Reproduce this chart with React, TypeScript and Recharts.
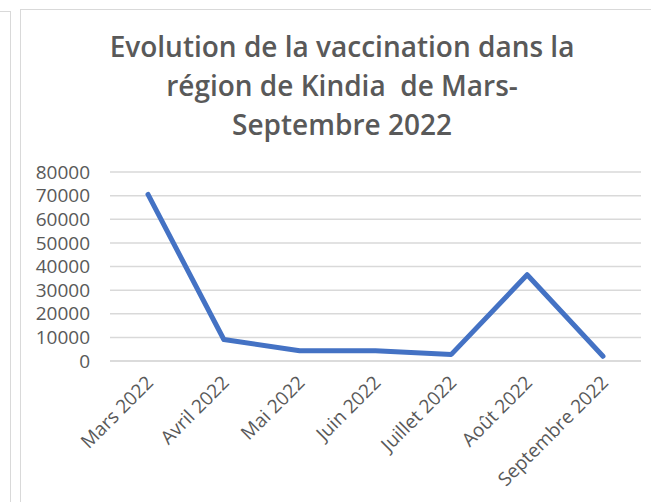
import React from "react";
import { LineChart, Line, XAxis, YAxis, CartesianGrid } from "recharts";

const months = ["Mars 2022", "Avril 2022", "Mai 2022", "Juin 2022", "Juillet 2022", "Août 2022", "Septembre 2022"];
const vaccinated = [70500, 9100, 4300, 4300, 2800, 36500, 2000];
const yTicks = [0, 10000, 20000, 30000, 40000, 50000, 60000, 70000, 80000];
const titleLines = ["Evolution de la vaccination dans la", "région de Kindia  de Mars-", "Septembre 2022"];

const data = months.map((m, i) => ({ month: m, value: vaccinated[i] }));

const FONT = "'Open Sans', sans-serif";
const GREY = "#595959";

const XTick = (props: any) => {
  const { x, y, payload } = props;
  return (
    <g transform={`translate(${x},${y})`}>
      <text
        x={0}
        y={0}
        dy={15}
        dx={-6}
        textAnchor="end"
        fill={GREY}
        fontSize={19}
        fontFamily={FONT}
        transform="rotate(-45)"
      >
        {payload.value}
      </text>
    </g>
  );
};

export default function App() {
  return (
    <div style={{ position: "absolute", left: 0, top: 0, width: 651, height: 502, background: "#fff", overflow: "hidden" }}>
      <div style={{ position: "absolute", left: 0, top: 11, width: 10, height: 1, background: "#d9d9d9" }} />
      <div style={{ position: "absolute", left: 10, top: 11, width: 1, height: 491, background: "#d9d9d9" }} />
      <div style={{ position: "absolute", left: 20, top: 9, width: 1, height: 493, background: "#d9d9d9" }} />
      <div style={{ position: "absolute", left: 20, top: 9, width: 631, height: 1, background: "#d9d9d9" }} />
      <div
        style={{
          position: "absolute",
          left: 42,
          width: 600,
          top: 27,
          textAlign: "center",
          fontFamily: FONT,
          fontWeight: 600,
          fontSize: 28,
          lineHeight: "39px",
          color: GREY,
          whiteSpace: "pre",
        }}
      >
        {titleLines.map((l, i) => (
          <div key={i}>{l}</div>
        ))}
      </div>
      <LineChart
        width={651}
        height={502}
        data={data}
        margin={{ top: 172, right: 10, bottom: 0, left: 0 }}
        style={{ position: "absolute", left: 0, top: 0 }}
      >
        <CartesianGrid vertical={false} stroke="#d9d9d9" strokeWidth={1.5} />
        <XAxis
          dataKey="month"
          axisLine={{ stroke: "#d9d9d9", strokeWidth: 1.5 }}
          tickLine={false}
          interval={0}
          height={141}
          padding={{ left: 38, right: 38 }}
          tick={<XTick />}
        />
        <YAxis
          domain={[0, 80000]}
          ticks={yTicks}
          interval={0}
          width={110}
          axisLine={false}
          tickLine={false}
          tickMargin={14}
          tick={{ fill: GREY, fontSize: 19, fontFamily: FONT }}
        />
        <Line
          type="linear"
          dataKey="value"
          stroke="#4472C4"
          strokeWidth={5}
          strokeLinecap="round"
          strokeLinejoin="round"
          dot={false}
          isAnimationActive={false}
        />
      </LineChart>
    </div>
  );
}
